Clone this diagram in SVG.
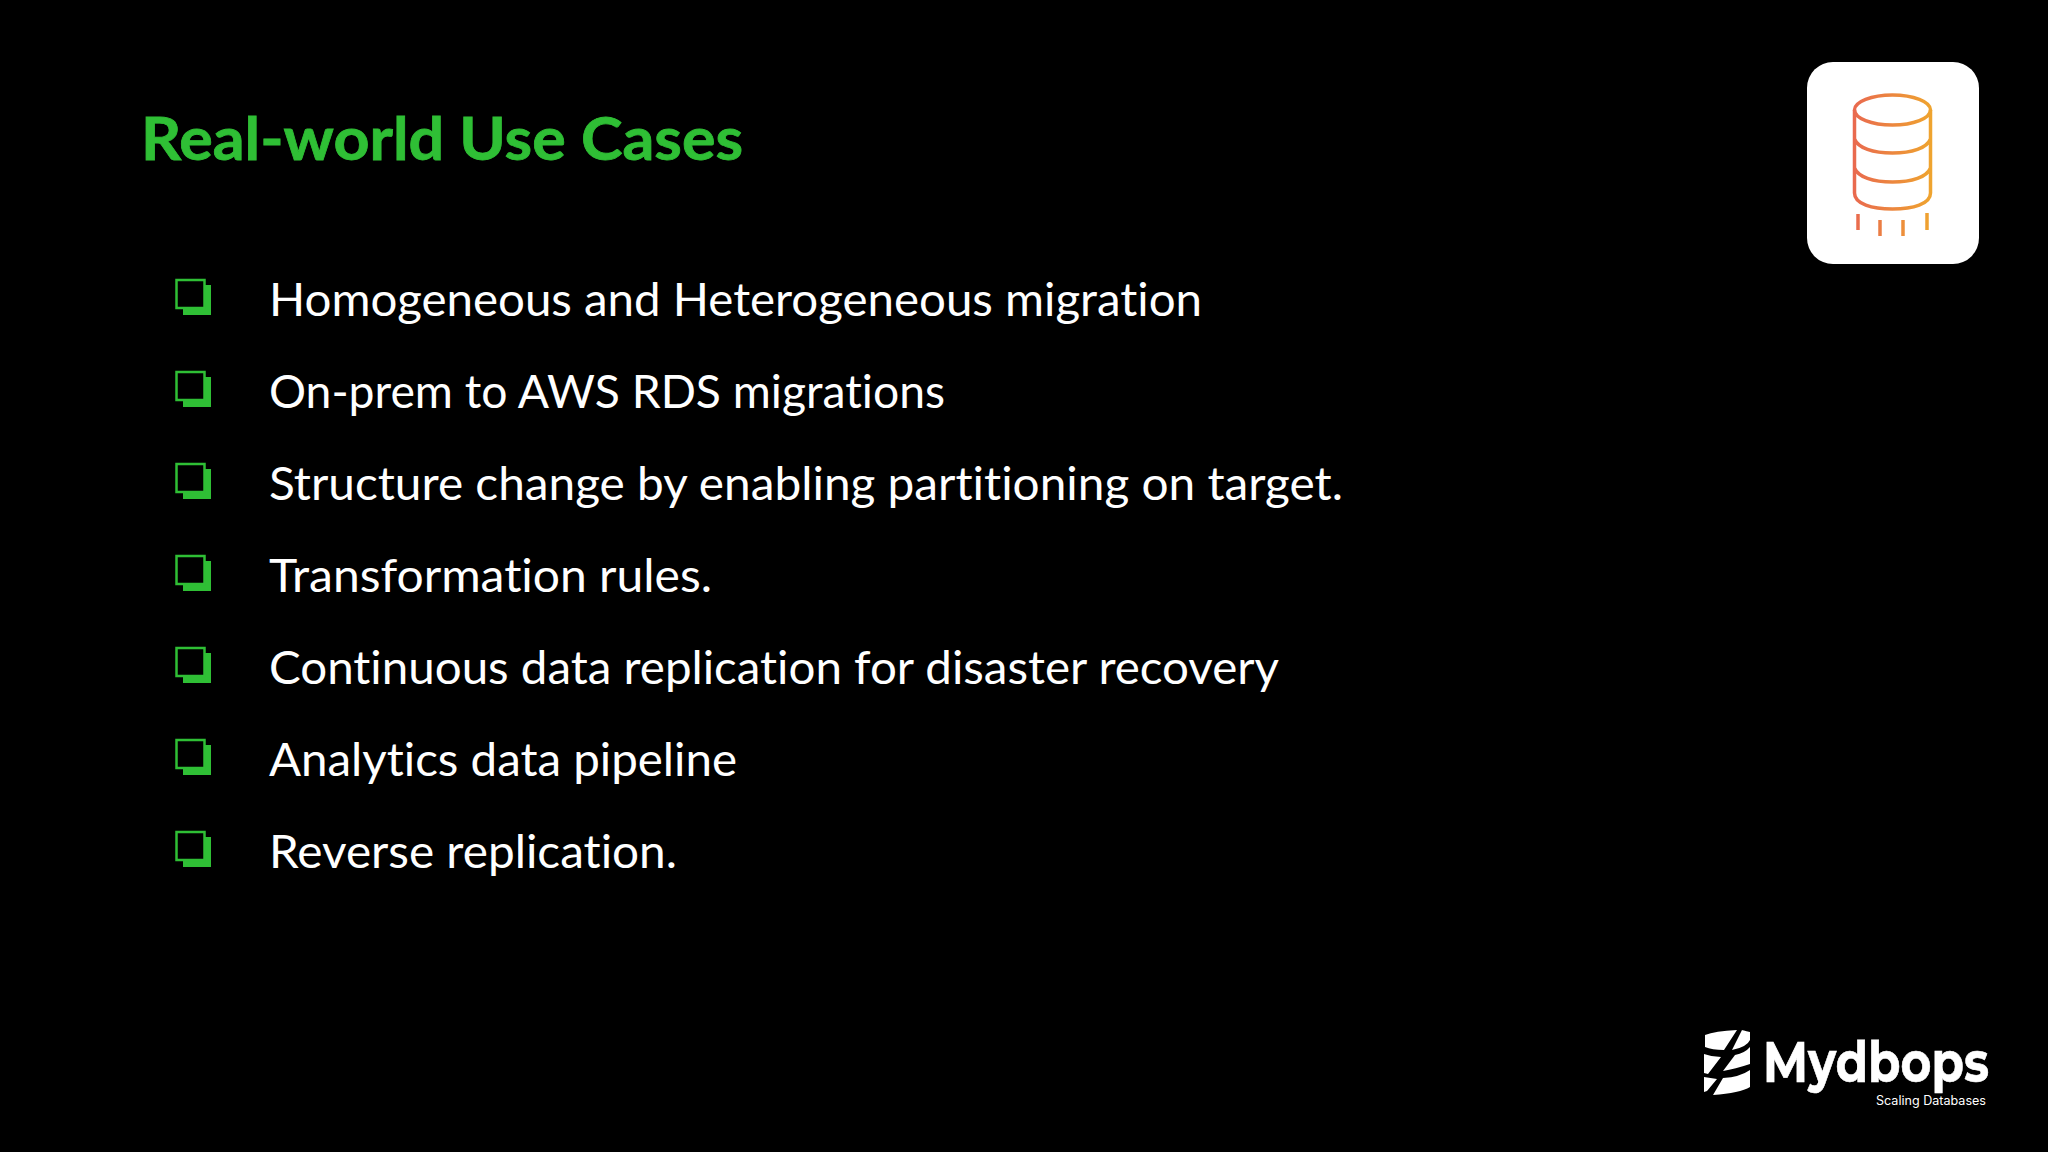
<svg xmlns="http://www.w3.org/2000/svg" width="2048" height="1152" viewBox="0 0 2048 1152">
<defs>
<linearGradient id="g" gradientUnits="userSpaceOnUse" x1="1853" y1="0" x2="1933" y2="0"><stop offset="0" stop-color="#e9694f"/><stop offset="1" stop-color="#efa52e"/></linearGradient>
<g id="bullet"><rect x="183" y="5" width="28" height="30" fill="#2fbf35"/><rect x="176.500" y="0" width="28" height="28" fill="#000" stroke="#2fbf35" stroke-width="2.500"/></g>
</defs>
<style>
text{font-variant-ligatures:none}
.t{font-family:"Lato","Liberation Sans",sans-serif;font-size:46px;fill:#fff}
.i{fill:none;stroke:url(#g);stroke-width:3.500}
</style>
<rect width="2048" height="1152" fill="#000"/>
<text x="141" y="160" font-family="Lato,'Liberation Sans',sans-serif" font-size="60" font-weight="700" fill="#2fbf35" stroke="#2fbf35" stroke-width="0.800" textLength="602" lengthAdjust="spacingAndGlyphs">Real-world Use Cases</text>
<g id="item1"><use href="#bullet" y="280"/><text class="t" x="269" y="316" textLength="933" lengthAdjust="spacingAndGlyphs">Homogeneous and Heterogeneous migration</text></g>
<g id="item2"><use href="#bullet" y="372"/><text class="t" x="269" y="408" textLength="676" lengthAdjust="spacingAndGlyphs">On-prem to AWS RDS migrations</text></g>
<g id="item3"><use href="#bullet" y="464"/><text class="t" x="269" y="500" textLength="1074" lengthAdjust="spacingAndGlyphs">Structure change by enabling partitioning on target.</text></g>
<g id="item4"><use href="#bullet" y="556"/><text class="t" x="269" y="592" textLength="443" lengthAdjust="spacingAndGlyphs">Transformation rules.</text></g>
<g id="item5"><use href="#bullet" y="648"/><text class="t" x="269" y="684" textLength="1010" lengthAdjust="spacingAndGlyphs">Continuous data replication for disaster recovery</text></g>
<g id="item6"><use href="#bullet" y="740"/><text class="t" x="269" y="776" textLength="468" lengthAdjust="spacingAndGlyphs">Analytics data pipeline</text></g>
<g id="item7"><use href="#bullet" y="832"/><text class="t" x="269" y="868" textLength="408" lengthAdjust="spacingAndGlyphs">Reverse replication.</text></g>
<g id="db-icon">
<rect x="1807" y="62" width="172" height="202" rx="26" fill="#fff"/>
<ellipse class="i" cx="1892.500" cy="110" rx="38" ry="15"/>
<path class="i" d="M1854.500 110V193C1854.500 204 1872 209 1892.500 209S1930.500 204 1930.500 193V110M1854.500 139C1858 148 1873 153 1892.500 153S1927 148 1930.500 139M1854.500 168C1858 177 1873 182 1892.500 182S1927 177 1930.500 168"/>
<path class="i" d="M1858 214V230M1880 220V236M1903 220V236M1927 213V230"/>
</g>
<g id="mydbops-logo">
<path fill="#fff" d="M1705 1035Q1715 1031 1737 1030L1724 1050Q1712 1050 1705 1047ZM1742 1030Q1742 1030 1750 1032 1750 1036 1750 1040 1747 1047 1732 1050ZM1704 1054Q1712 1057 1721 1057L1708 1074 1704 1073ZM1750 1047V1064Q1735 1069 1723 1071L1735 1055Q1745 1053 1750 1047ZM1750 1070V1087Q1740 1093 1713 1095L1723 1078Q1740 1077 1750 1070ZM1704 1077 1717 1079 1707 1091 1704 1092Z"/>
<text x="1763" y="1082" font-family="Montserrat,Inter,'Liberation Sans',sans-serif" font-size="56" font-weight="700" fill="#fff" stroke="#fff" stroke-width="0.600" textLength="226" lengthAdjust="spacingAndGlyphs">Mydbops</text>
<text x="1876" y="1105" font-family="Inter,'Liberation Sans',sans-serif" font-size="12.500" fill="#fff" textLength="110" lengthAdjust="spacingAndGlyphs">Scaling Databases</text>
</g>
</svg>
